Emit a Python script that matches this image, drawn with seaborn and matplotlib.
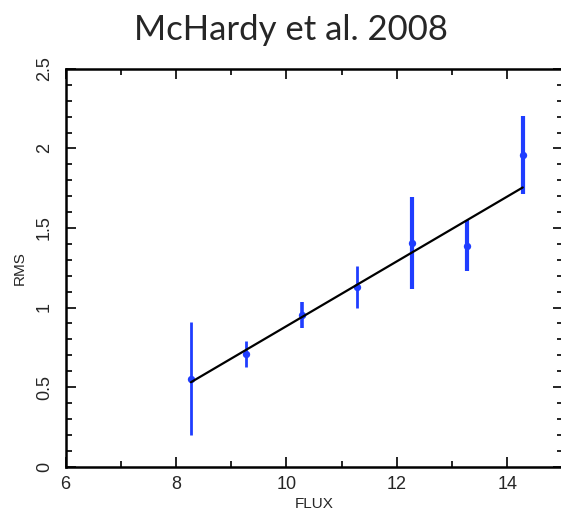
import matplotlib
matplotlib.use("Agg")
import matplotlib.pyplot as plt
import seaborn as sns
import numpy as np
import pandas as pd
from matplotlib.ticker import MultipleLocator

flux = [8.27, 9.27, 10.28, 11.27, 12.27, 13.27, 14.28]
rms = [0.553, 0.708, 0.953, 1.13, 1.408, 1.388, 1.96]
rms_err = [0.355, 0.083, 0.08, 0.13, 0.29, 0.16, 0.245]
fit_flux = [8.27, 14.28]
fit_rms = [0.53, 1.755]
title = "McHardy et al. 2008"

# style only (bar thickness per point)
bar_widths = [2.0, 2.0, 2.6, 2.0, 3.0, 3.0, 3.0]

df = pd.DataFrame({"FLUX": flux, "RMS": rms, "err": rms_err})
fit_df = pd.DataFrame({"FLUX": fit_flux, "RMS": fit_rms})

sns.set_style("ticks")
plt.rcParams['font.family'] = ['Liberation Sans', 'DejaVu Sans']

fig = plt.figure(figsize=(5.61, 5.13), dpi=100)
ax = fig.add_axes([65.6 / 561, 1 - 466.5 / 513, (562.5 - 65.6) / 561, (466.5 - 69) / 513])

blue = "#1f3dff"
ax.vlines(df["FLUX"], df["RMS"] - df["err"], df["RMS"] + df["err"],
          colors=blue, linewidths=bar_widths, zorder=2)
sns.scatterplot(data=df, x="FLUX", y="RMS", ax=ax, color=blue, s=28,
                edgecolor=blue, linewidth=0, zorder=3)
sns.lineplot(data=fit_df, x="FLUX", y="RMS", ax=ax, color="black", lw=1.6,
             zorder=4)

ax.set_xlim(6, 15)
ax.set_ylim(0, 2.5)
ax.xaxis.set_minor_locator(MultipleLocator(1))
ax.yaxis.set_minor_locator(MultipleLocator(0.1))
ax.set_xticks([6, 8, 10, 12, 14])
ax.set_xticklabels(["6", "8", "10", "12", "14"])
ax.set_yticks([0, 0.5, 1, 1.5, 2, 2.5])
ax.set_yticklabels(["0", "0.5", "1", "1.5", "2", "2.5"], rotation=90, va="center")

ax.tick_params(which="both", direction="in", top=True, right=True, labelsize=13,
               color="black", width=1.2)
ax.tick_params(which="major", length=7)
ax.tick_params(axis="x", which="major", pad=7)
ax.tick_params(axis="y", which="major", pad=9)
ax.tick_params(which="minor", length=4)
for s in ax.spines.values():
    s.set_linewidth(1.8)
    s.set_color("black")

ax.set_xlabel("FLUX", fontsize=11, labelpad=3)
ax.set_ylabel("RMS", fontsize=11, labelpad=7)

fig.text(291 / 561, 1 - 30 / 513, title, ha="center", va="center",
         fontsize=25, family=["Lato", "DejaVu Sans"])

fig.savefig("out.png", dpi=100)
